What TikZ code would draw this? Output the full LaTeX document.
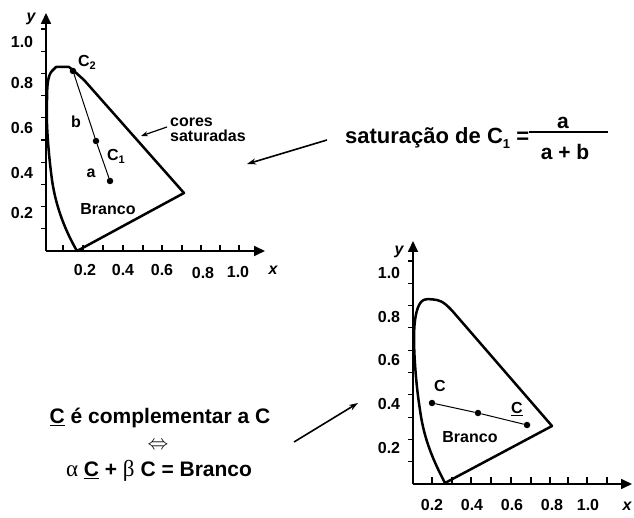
\documentclass[tikz,border=0pt]{standalone}
\usepackage{fontspec}
\setmainfont{Liberation Sans}
\newfontfamily\greekserif{Liberation Serif}
\usetikzlibrary{arrows.meta}
\newcommand{\ulC}{\underline{C}}
\begin{document}
\begin{tikzpicture}[x=1pt,y=-1pt,
  font=\bfseries\fontsize{16}{17}\selectfont,
  axis/.style={line width=1.7pt,-{Triangle[length=11pt,width=10pt]}},
  tickmark/.style={line width=1.2pt},
  locus/.style={line width=2.5pt,line join=round},
  seg/.style={line width=1pt},
  dot/.style={circle,fill,inner sep=0pt,minimum size=6.5pt},
  lbl/.style={inner sep=0pt},
  axlab/.style={inner sep=0pt,font=\bfseries\itshape\fontsize{16}{18}\selectfont},
  big/.style={inner sep=0pt,font=\bfseries\fontsize{21}{24}\selectfont},
  ptr/.style={line width=1.6pt,-{Stealth[length=9pt,width=6pt]}},
  smallptr/.style={line width=1.2pt,-{Stealth[length=7pt,width=5pt]}}]
\useasboundingbox (0,0) rectangle (634,518);

% ---------- top-left diagram ----------
\coordinate (O1) at (46,251);
\coordinate (Y1) at (46,13);
\coordinate (X1) at (265,251);
\draw[axis] (O1) -- (Y1);
\draw[axis] (O1) -- (X1);
\foreach \k in {1,...,10} \draw[tickmark] (41,251-22.2*\k) -- (46,251-22.2*\k);
\foreach \xx in {63,83,103,123,143,162,182,201,220,239} \draw[tickmark] (\xx,245) -- (\xx,251);
\node[axlab] (ylab1) at (31,19) {y};
\node[axlab] (xlab1) at (273,270) {x};
\foreach \v/\yy in {1.0/42,0.8/83,0.6/128,0.4/173,0.2/213} \node[lbl] at (22,\yy) {\v};
\foreach \v/\xx/\yy in {0.2/85/270,0.4/123/270,0.6/162/270,0.8/203/273,1.0/238/272} \node[lbl] at (\xx,\yy) {\v};

\coordinate (bot1) at (77,251);
\coordinate (red1) at (184,193);
\draw[locus] (bot1) .. controls (66,232) and (56,208) .. (52,180)
  .. controls (48,150) and (46,120) .. (47,100)
  .. controls (47,85) and (48,75) .. (52,71)
  -- (56,67) -- (69,67) -- (74,71) -- (84,80) -- (red1) -- cycle;
\node[dot] (c2) at (73,71) {};
\node[dot] (c1) at (96,141) {};
\node[dot] (w1) at (110,181) {};
\draw[seg] (c2) -- (c1) -- (w1);
\node[lbl] (c2lab) at (87,62) {C\raisebox{-0.35ex}{\fontsize{11}{12}\selectfont 2}};
\node[lbl] (c1lab) at (116,156) {C\raisebox{-0.35ex}{\fontsize{11}{12}\selectfont 1}};
\node[lbl] (blab) at (76,122) {b};
\node[lbl] (alab) at (91,173) {a};
\node[lbl] (branco1) at (108,209) {Branco};
\node[lbl,align=left,anchor=west,font=\bfseries\fontsize{16}{17}\selectfont] (cores) at (170,130) {cores\\[-2pt]saturadas};
\coordinate (coresedge) at (141,136);
\draw[smallptr] (167,127) -- (coresedge);

% ---------- formula ----------
\node[big,anchor=west,font=\bfseries\fontsize{22}{24}\selectfont] (sat) at (345,138) {saturação de C\raisebox{-0.4ex}{\fontsize{13}{14}\selectfont 1} =};
\draw[line width=2.2pt] (529,132) -- (608,132);
\node[big] (num) at (563,123) {a};
\node[big] (den) at (565,152) {a + b};
\coordinate (satpt) at (247,164);
\draw[ptr] (327,140) -- (satpt);

% ---------- bottom-right diagram ----------
\coordinate (O2) at (413,484);
\coordinate (Y2) at (413,241);
\coordinate (X2) at (632,484);
\draw[axis] (O2) -- (Y2);
\draw[axis] (O2) -- (X2);
\foreach \k in {1,...,10} \draw[tickmark] (408,484-22.3*\k) -- (413,484-22.3*\k);
\foreach \xx in {432,452,471,491,511,531,550,568,587,607} \draw[tickmark] (\xx,477) -- (\xx,484);
\node[axlab] (ylab2) at (399,252) {y};
\node[axlab] (xlab2) at (627,506) {x};
\foreach \v/\yy in {1.0/273,0.8/317,0.6/360,0.4/404,0.2/448} \node[lbl] at (389,\yy) {\v};
\foreach \v/\xx in {0.2/432,0.4/472,0.6/512,0.8/552,1.0/588} \node[lbl] at (\xx,505) {\v};

\coordinate (bot2) at (445,483);
\coordinate (red2) at (552,426);
\draw[locus] (bot2) .. controls (434,462) and (424,440) .. (420,410)
  .. controls (416,385) and (414,355) .. (414,338)
  .. controls (414,322) and (416,308) .. (421,302)
  .. controls (424,298) and (430,299) .. (437,300)
  .. controls (443,301) and (449,307) .. (455,314)
  -- (red2) -- cycle;
\node[dot] (cc) at (432,403) {};
\node[dot] (w2) at (478,413) {};
\node[dot] (cbar) at (527,425) {};
\draw[seg] (cc) -- (w2) -- (cbar);
\node[lbl] (cclab) at (440,386) {C};
\node[lbl] (cbarlab) at (517,409) {\ulC};
\node[lbl] (branco2) at (470,437) {Branco};

% ---------- complementary text ----------
\node[big] (comp) at (160,418) {\ulC{} é complementar a C};
\node[lbl,font=\fontsize{20}{22}\selectfont] (iff) at (158,446) {$\Leftrightarrow$};
\node[big] (eq) at (159,471) {{\greekserif\mdseries\fontsize{23}{24}\selectfont α} \ulC{} + {\greekserif\mdseries\fontsize{23}{24}\selectfont β} C = Branco};
\coordinate (comppt) at (358,403);
\draw[ptr] (294,442) -- (comppt);
\end{tikzpicture}
\end{document}
